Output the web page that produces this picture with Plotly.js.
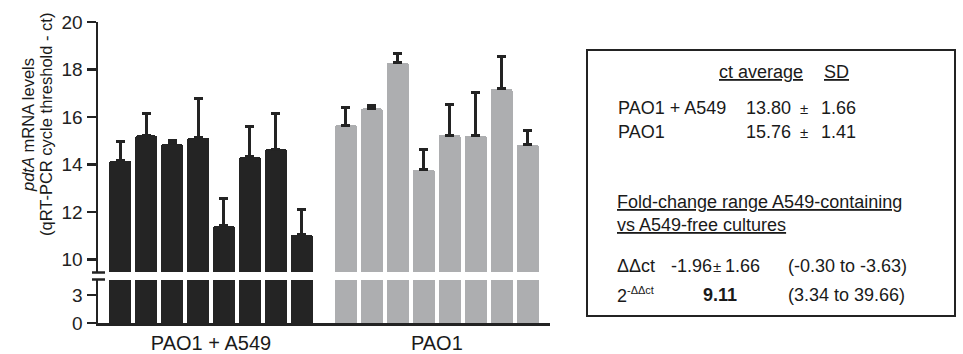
<!DOCTYPE html>
<html>
<head>
<meta charset="utf-8">
<script src="https://cdn.plot.ly/plotly-3.0.1.min.js"></script>
<style>html,body{margin:0;padding:0;background:#fff;}#chart{width:963px;height:354px;}</style>
</head>
<body>
<div id="chart"></div>
<script>
// ---- data ----
const groupLabels = ['PAO1 + A549', 'PAO1'];
const coCultureCt = [14.16, 15.22, 14.87, 15.13, 11.41, 14.32, 14.65, 11.03];
const coCultureSD = [0.79, 0.91, 0.16, 1.64, 1.17, 1.26, 1.49, 1.09];
const monoCultureCt = [15.66, 16.36, 18.28, 13.78, 15.24, 15.21, 17.18, 14.84];
const monoCultureSD = [0.76, 0.12, 0.38, 0.83, 1.27, 1.83, 1.35, 0.59];
const upperTicks = [10, 12, 14, 16, 18, 20];
const lowerTicks = [0, 3];
const summaryHeader = ['ct average', 'SD'];
const summaryRows = [
  ['PAO1 + A549', '13.80', '1.66'],
  ['PAO1', '15.76', '1.41']
];
const foldTitle = ['Fold-change range A549-containing', 'vs A549-free cultures'];
const ddct = ['-1.96', '1.66', '(-0.30 to -3.63)'];
const foldChange = ['9.11', '(3.34 to 39.66)'];

// ---- layout geometry ----
const W = 963, H = 354;
const L = 98, R = 550, T = 22, B = 323;
const px = x => (x - L) / (R - L);
const py = y => (B - y) / (B - T);
const FONT = '"Liberation Sans", Arial, Helvetica, sans-serif';
const DARK = '#232323';
const BLACKBAR = '#242424';
const GREYBAR = '#adaeb0';
const barW = 0.836;

const xCo = coCultureCt.map((_, i) => 1 + i);
const xMono = monoCultureCt.map((_, i) => 9.7 + i);
const groupCenters = [(xCo[0] + xCo[xCo.length - 1]) / 2, (xMono[0] + xMono[xMono.length - 1]) / 2];

function err(arr) {
  return {type: 'data', symmetric: false, array: arr, arrayminus: arr.map(() => 0),
          color: DARK, thickness: 3, width: 4.5};
}

const traces = [
  {type: 'bar', x: xCo, y: coCultureCt, width: barW, xaxis: 'x', yaxis: 'y',
   marker: {color: BLACKBAR, cornerradius: 2, line: {width: 0}}, error_y: err(coCultureSD), hoverinfo: 'skip'},
  {type: 'bar', x: xMono, y: monoCultureCt, width: barW, xaxis: 'x', yaxis: 'y',
   marker: {color: GREYBAR, cornerradius: 2, line: {width: 0}}, error_y: err(monoCultureSD), hoverinfo: 'skip'},
  {type: 'bar', x: xCo, y: coCultureCt, width: barW, xaxis: 'x', yaxis: 'y2',
   marker: {color: BLACKBAR, line: {width: 0}}, hoverinfo: 'skip'},
  {type: 'bar', x: xMono, y: monoCultureCt, width: barW, xaxis: 'x', yaxis: 'y2',
   marker: {color: GREYBAR, line: {width: 0}}, hoverinfo: 'skip'}
];

const yCommon = {
  showline: true, linecolor: DARK, linewidth: 2.5, ticks: 'outside', ticklen: 9, tickwidth: 2.5,
  tickcolor: DARK, showgrid: false, zeroline: false, fixedrange: true,
  tickfont: {family: FONT, size: 19, color: '#222'}, anchor: 'x', tickmode: 'array'
};

const ann = [];
function txt(text, x, y, opts) {
  ann.push(Object.assign({text: text, xref: 'paper', yref: 'paper', x: px(x), y: py(y),
    xanchor: 'left', yanchor: 'middle', showarrow: false,
    font: {family: FONT, size: 18, color: '#1a1a1a'}}, opts || {}));
}
// y-axis title (two lines)
txt('<i>pdtA</i> mRNA levels', 28, 125, {textangle: -90, xanchor: 'center', font: {family: FONT, size: 16.5, color: '#1a1a1a'}});
txt('(qRT-PCR cycle threshold - ct)', 46, 125, {textangle: -90, xanchor: 'center', font: {family: FONT, size: 16.5, color: '#1a1a1a'}});

// summary box
txt('<u>' + summaryHeader[0] + '</u>', 717, 72);
txt('<u>' + summaryHeader[1] + '</u>', 822, 72);
const rowY = [108, 132];
summaryRows.forEach((r, i) => {
  txt(r[0], 616, rowY[i]);
  txt(r[1], 744, rowY[i]);
  txt('±', 804, rowY[i], {xanchor: 'center', font: {family: FONT, size: 15, color: '#1a1a1a'}});
  txt(r[2], 819, rowY[i]);
});
txt('<u>' + foldTitle[0] + '</u>', 615, 202);
txt('<u>' + foldTitle[1] + '</u>', 615, 225);
txt('ΔΔct', 615, 266);
txt(ddct[0], 669, 266);
txt('±', 717, 266, {xanchor: 'center', font: {family: FONT, size: 15, color: '#1a1a1a'}});
txt(ddct[1], 723, 266);
txt(ddct[2], 786, 266);
txt('2<sup><span style="font-size:11px">-ΔΔct</span></sup>', 615, 295);
txt('<b>' + foldChange[0] + '</b>', 720, 295, {xanchor: 'center'});
txt(foldChange[1], 786, 295);

const shapes = [
  // axis break caps
  {type: 'line', xref: 'paper', yref: 'paper', x0: px(92), x1: px(105), y0: py(272.5), y1: py(272.5), line: {color: DARK, width: 2.5}},
  {type: 'line', xref: 'paper', yref: 'paper', x0: px(92), x1: px(105), y0: py(279.5), y1: py(279.5), line: {color: DARK, width: 2.5}},
  // summary box
  {type: 'rect', xref: 'paper', yref: 'paper', x0: px(587), x1: px(955), y0: py(50), y1: py(316), line: {color: DARK, width: 2}, fillcolor: 'rgba(0,0,0,0)'}
];

const layout = {
  width: W, height: H,
  margin: {l: L, r: W - R, t: T, b: H - B, pad: 0},
  paper_bgcolor: '#fff', plot_bgcolor: '#fff',
  showlegend: false, barmode: 'overlay', bargap: 0,
  xaxis: {range: [0.146, 17.56], showline: true, linecolor: DARK, linewidth: 2.5, anchor: 'y2',
          tickmode: 'array', tickvals: groupCenters, ticktext: groupLabels,
          ticks: '', ticklen: 0,
          tickfont: {family: FONT, size: 20, color: '#1a1a1a'},
          showgrid: false, zeroline: false, fixedrange: true},
  yaxis: Object.assign({}, yCommon, {domain: [py(272), 1], range: [9.47, 20], tickvals: upperTicks}),
  yaxis2: Object.assign({}, yCommon, {domain: [0, py(280)], range: [0, 4.61], tickvals: lowerTicks}),
  annotations: ann,
  shapes: shapes
};

Plotly.newPlot('chart', traces, layout, {staticPlot: true, displayModeBar: false});
</script>
</body>
</html>
